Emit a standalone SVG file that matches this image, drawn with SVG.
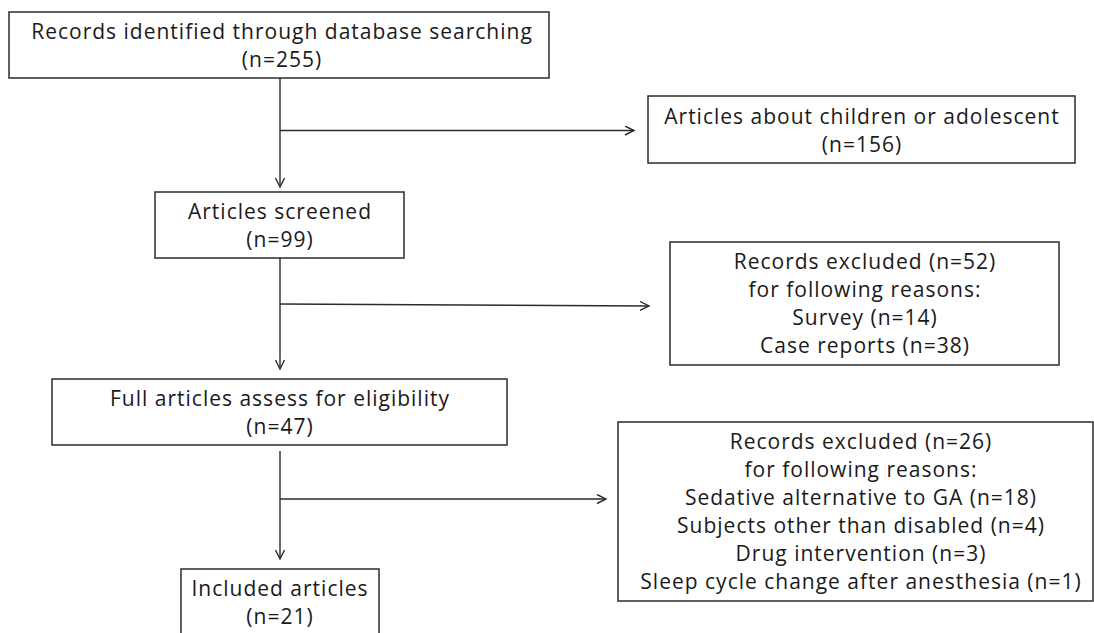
<svg xmlns="http://www.w3.org/2000/svg" width="1094" height="633" viewBox="0 0 1094 633">
  <style>
    .box { fill: #ffffff; stroke: #2b2b2b; stroke-width: 1.5; }
    .t { font-family: "Open Sans", "Liberation Sans", sans-serif; font-size: 21px; letter-spacing: 1px; fill: #1a1a1a; text-anchor: middle; }
    .c { fill: none; stroke: #2b2b2b; stroke-width: 1.4; }
  </style>
  <defs>
    <marker id="arr" markerUnits="userSpaceOnUse" markerWidth="12" markerHeight="12" refX="10" refY="5" orient="auto" viewBox="0 0 12 12">
      <path d="M1,0.5 L10,5 L1,9.5" fill="none" stroke="#2b2b2b" stroke-width="1.4"/>
    </marker>
  </defs>
  <rect width="1094" height="633" fill="#ffffff"/>

  <g id="connectors">
    <line class="c" x1="280" y1="78" x2="280" y2="187" marker-end="url(#arr)"/>
    <line class="c" x1="280" y1="130.5" x2="634" y2="130.5" marker-end="url(#arr)"/>
    <line class="c" x1="280" y1="258" x2="280" y2="369" marker-end="url(#arr)"/>
    <line class="c" x1="280" y1="304" x2="649" y2="306" marker-end="url(#arr)"/>
    <line class="c" x1="280" y1="451" x2="280" y2="559" marker-end="url(#arr)"/>
    <line class="c" x1="280" y1="499" x2="606" y2="499" marker-end="url(#arr)"/>
  </g>

  <g id="node-records">
    <rect class="box" x="9" y="12" width="540" height="66"/>
    <text class="t" x="282" y="39">Records identified through database searching</text>
    <text class="t" x="282" y="67">(n=255)</text>
  </g>

  <g id="node-children">
    <rect class="box" x="648" y="96" width="427" height="67"/>
    <text class="t" x="862" y="124">Articles about children or adolescent</text>
    <text class="t" x="862" y="152">(n=156)</text>
  </g>

  <g id="node-screened">
    <rect class="box" x="155" y="192" width="249" height="66"/>
    <text class="t" x="280" y="219">Articles screened</text>
    <text class="t" x="280" y="247">(n=99)</text>
  </g>

  <g id="node-excluded52">
    <rect class="box" x="670" y="242" width="389" height="123"/>
    <text class="t" x="865" y="269">Records excluded (n=52)</text>
    <text class="t" x="865" y="297">for following reasons:</text>
    <text class="t" x="865" y="325">Survey (n=14)</text>
    <text class="t" x="865" y="353">Case reports (n=38)</text>
  </g>

  <g id="node-full">
    <rect class="box" x="52" y="379" width="455" height="66"/>
    <text class="t" x="280" y="406">Full articles assess for eligibility</text>
    <text class="t" x="280" y="434">(n=47)</text>
  </g>

  <g id="node-excluded26">
    <rect class="box" x="618" y="422" width="475" height="179"/>
    <text class="t" x="861" y="449">Records excluded (n=26)</text>
    <text class="t" x="861" y="477">for following reasons:</text>
    <text class="t" x="861" y="505">Sedative alternative to GA (n=18)</text>
    <text class="t" x="861" y="533">Subjects other than disabled (n=4)</text>
    <text class="t" x="861" y="561">Drug intervention (n=3)</text>
    <text class="t" x="861" y="589">Sleep cycle change after anesthesia (n=1)</text>
  </g>

  <g id="node-included">
    <rect class="box" x="181" y="569" width="198" height="80"/>
    <text class="t" x="280" y="596">Included articles</text>
    <text class="t" x="280" y="624">(n=21)</text>
  </g>
</svg>
